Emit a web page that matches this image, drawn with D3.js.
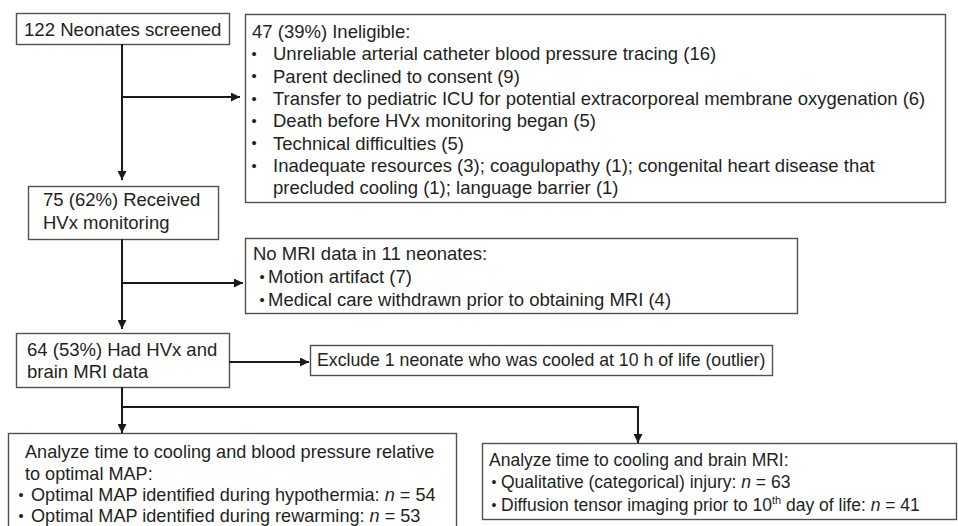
<!DOCTYPE html>
<html><head><meta charset="utf-8">
<script src="https://cdn.jsdelivr.net/npm/d3@7"></script>
<style>body{margin:0;background:#fff}svg{display:block}</style>
</head><body>
<svg id="c" width="958" height="526"></svg>
<script>
// ---- content ----
const screenedText = ["122 Neonates screened"];
const ineligibleHeader = "47 (39%) Ineligible:";
const ineligibleItems = [
  ["Unreliable arterial catheter blood pressure tracing (16)"],
  ["Parent declined to consent (9)"],
  ["Transfer to pediatric ICU for potential extracorporeal membrane oxygenation (6)"],
  ["Death before HVx monitoring began (5)"],
  ["Technical difficulties (5)"],
  ["Inadequate resources (3); coagulopathy (1); congenital heart disease that", "precluded cooling (1); language barrier (1)"]
];
const receivedText = ["75 (62%) Received", "HVx monitoring"];
const noMriHeader = "No MRI data in 11 neonates:";
const noMriItems = [["Motion artifact (7)"], ["Medical care withdrawn prior to obtaining MRI (4)"]];
const hadText = ["64 (53%) Had HVx and", "brain MRI data"];
const excludeText = ["Exclude 1 neonate who was cooled at 10 h of life (outlier)"];
const mapHeader = ["Analyze time to cooling and blood pressure relative", "to optimal MAP:"];
const mapItems = [
  [{t:"Optimal MAP identified during hypothermia: "},{t:"n",i:true},{t:" = 54"}],
  [{t:"Optimal MAP identified during rewarming: "},{t:"n",i:true},{t:" = 53"}]
];
const mriHeader = ["Analyze time to cooling and brain MRI:"];
const mriItems = [
  [{t:"Qualitative (categorical) injury: "},{t:"n",i:true},{t:" = 63"}],
  [{t:"Diffusion tensor imaging prior to 10"},{t:"th",s:true},{t:" day of life: "},{t:"n",i:true},{t:" = 41"}]
];

// ---- layout ----
const layout = {
  screened:{x:16,y:13,w:213,h:31},
  ineligible:{x:245,y:14,w:700,h:188},
  received:{x:28,y:186,w:190,h:53},
  noMri:{x:245,y:238,w:552,h:75},
  had:{x:16,y:333,w:213,h:54},
  exclude:{x:310,y:345,w:462,h:30},
  map:{x:8,y:433,w:448,h:120},
  mri:{x:482,y:443,w:474,h:76}
};
const FONT = "'Liberation Sans', Arial, Helvetica, sans-serif";
const LH = 22.3;
const TXT = "#231f20";

const svg = d3.select("#c");
svg.append("defs").append("marker")
  .attr("id","ah").attr("viewBox","0 0 10 10").attr("refX",10).attr("refY",5)
  .attr("markerWidth",10).attr("markerHeight",9).attr("markerUnits","userSpaceOnUse")
  .attr("orient","auto")
  .append("path").attr("d","M0,0L10,5L0,10Z").attr("fill","#1a1a1a");

const boxes = svg.append("g");
Object.values(layout).forEach(b=>{
  boxes.append("rect").attr("x",b.x+0.5).attr("y",b.y+0.5).attr("width",b.w).attr("height",b.h)
    .attr("fill","#fff").attr("stroke","#505050").attr("stroke-width",1.4);
});

const tg = svg.append("g").attr("font-family",FONT).attr("fill",TXT);
function line(x,yc,content,fs){
  const t = tg.append("text").attr("x",x).attr("y",yc).attr("dy","0.35em").attr("font-size",fs);
  if(typeof content==="string"){ t.text(content); return t; }
  content.forEach((p,k)=>{
    const s = t.append("tspan").text(p.t);
    if(p.i) s.attr("font-style","italic");
    if(p.s) s.attr("font-size",fs*0.62).attr("dy",(-0.42*fs)+"px");
    if(k>0 && content[k-1].s) s.attr("dy",(0.42*fs)+"px");
  });
  return t;
}
function bullet(x,yc,fs){ tg.append("text").attr("x",x).attr("y",yc).attr("dy","0.35em").attr("text-anchor","middle").attr("font-size",fs*0.8).text("•"); }

// screened
line(24,29,screenedText[0],18.6);
// ineligible
const F1 = 18.5;
line(252,31.7,ineligibleHeader,F1);
let k=1;
ineligibleItems.forEach(item=>{
  bullet(254,31.7+LH*k,F1);
  item.forEach(l=>{ line(273,31.7+LH*k,l,F1); k++; });
});
// received
receivedText.forEach((l,i)=>line(43,200+23*i,l,18.5));
// no MRI
line(253,254,noMriHeader,18.5);
noMriItems.forEach((it,i)=>{ bullet(262,277+23*i,18.5); line(268,277+23*i,it[0],18.5); });
// had
hadText.forEach((l,i)=>line(27,350+22*i,l,18.5));
// exclude
line(317,360,excludeText[0],17.7);
// map
mapHeader.forEach((l,i)=>line(25,452+21.5*i,l,18.1));
mapItems.forEach((it,i)=>{ bullet(21,495+21*i,18.1); line(31,495+21*i,it,18.1); });
// mri
line(489,460,mriHeader[0],17.5);
mriItems.forEach((it,i)=>{ bullet(494,482+23*i,17.5); line(501,482+23*i,it,17.5); });

// connectors
const cg = svg.append("g").attr("stroke","#1a1a1a").attr("stroke-width",2).attr("fill","none");
const conns = [
  [[122,44],[122,180]],
  [[122,97],[240,97]],
  [[122,239],[122,329]],
  [[122,283],[243,283]],
  [[229,362],[309,362]],
  [[122,387],[122,433]],
  [[122,407],[638,407],[638,443]]
];
const lg = d3.line();
conns.forEach(p=>cg.append("path").attr("d",lg(p)).attr("marker-end","url(#ah)"));
</script>
</body></html>
